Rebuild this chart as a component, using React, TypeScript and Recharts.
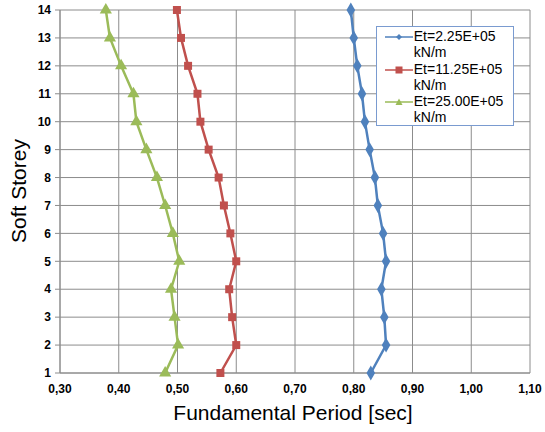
import React from "react";
import {
  ScatterChart,
  Scatter,
  XAxis,
  YAxis,
  ZAxis,
  CartesianGrid,
} from "recharts";

const storeys = [1, 2, 3, 4, 5, 6, 7, 8, 9, 10, 11, 12, 13, 14];

// fundamental period [sec] per soft storey
const periodEt225 = [0.829, 0.855, 0.852, 0.847, 0.855, 0.85, 0.841, 0.836, 0.827, 0.819, 0.814, 0.806, 0.8, 0.795];
const periodEt1125 = [0.573, 0.6, 0.593, 0.588, 0.6, 0.59, 0.579, 0.57, 0.553, 0.539, 0.534, 0.518, 0.506, 0.499];
const periodEt2500 = [0.479, 0.501, 0.495, 0.489, 0.503, 0.492, 0.479, 0.465, 0.447, 0.43, 0.425, 0.404, 0.385, 0.378];

const xTicks = [0.3, 0.4, 0.5, 0.6, 0.7, 0.8, 0.9, 1.0, 1.1];

const seriesNames = ["Et=2.25E+05 kN/m", "Et=11.25E+05 kN/m", "Et=25.00E+05 kN/m"];

const BLUE = "#4F81BD";
const RED = "#C0504D";
const GREEN = "#9BBB59";
const GRID = "#8c8c8c";
const FONT = "'Liberation Sans', Arial, sans-serif";

const toPoints = (values: number[]) =>
  values.map((v, i) => ({ period: v, storey: storeys[i] }));

const series = [
  { name: seriesNames[0], color: BLUE, shape: "diamond" as const, data: toPoints(periodEt225) },
  { name: seriesNames[1], color: RED, shape: "square" as const, data: toPoints(periodEt1125) },
  { name: seriesNames[2], color: GREEN, shape: "triangle" as const, data: toPoints(periodEt2500) },
];

const fmt = (v: number) => v.toFixed(2).replace(".", ",");

function LegendMarker({ color, shape }: { color: string; shape: string }) {
  return (
    <svg width={28} height={10} style={{ display: "block" }}>
      <line x1={0} y1={5} x2={28} y2={5} stroke={color} strokeWidth={1.5} />
      {shape === "diamond" && <polygon points="14,2 17,5 14,8 11,5" fill={color} />}
      {shape === "square" && <rect x={10.5} y={1.5} width={7} height={7} fill={color} />}
      {shape === "triangle" && <polygon points="14,1.5 17.5,8 10.5,8" fill={color} />}
    </svg>
  );
}

export default function App() {
  return (
    <div style={{ position: "absolute", left: 0, top: 0, width: 545, height: 432, background: "#fff", fontFamily: FONT }}>
      <ScatterChart width={545} height={432} margin={{ top: 10, right: 15, bottom: 0, left: 0 }}>
        <CartesianGrid stroke={GRID} strokeWidth={1} />
        <XAxis
          type="number"
          dataKey="period"
          domain={[0.3, 1.1]}
          ticks={xTicks}
          tickFormatter={fmt}
          height={59}
          axisLine={{ stroke: GRID }}
          tickLine={false}
          tickSize={0}
          tickMargin={11}
          tick={{ fill: "#000", fontSize: 12, fontWeight: 700, fontFamily: FONT }}
          label={{
            content: () => (
              <text x={293} y={412} textAnchor="middle" dominantBaseline="central" fontSize={21} fontFamily={FONT} fill="#000">
                Fundamental Period [sec]
              </text>
            ),
          }}
        />
        <YAxis
          type="number"
          dataKey="storey"
          domain={[1, 14]}
          ticks={storeys}
          width={60}
          axisLine={{ stroke: GRID }}
          tickLine={{ stroke: GRID }}
          tickSize={5}
          tickMargin={4}
          tick={{ fill: "#000", fontSize: 12, fontWeight: 700, fontFamily: FONT }}
          label={{
            content: () => (
              <text x={18} y={191} transform="rotate(-90 18 191)" textAnchor="middle" dominantBaseline="central" fontSize={21} fontFamily={FONT} fill="#000">
                Soft Storey
              </text>
            ),
          }}
        />
        <ZAxis range={[80, 80]} />
        {series.map((s) => (
          <Scatter
            key={s.name}
            name={s.name}
            data={s.data}
            fill={s.color}
            shape={s.shape}
            line={{ stroke: s.color, strokeWidth: 2.5 }}
            lineType="joint"
            isAnimationActive={false}
          />
        ))}
      </ScatterChart>
      <div
        style={{
          position: "absolute",
          left: 376,
          top: 26,
          width: 138,
          height: 100,
          border: "1px solid #7a9bd0",
          background: "#fff",
          boxSizing: "border-box",
          padding: "1px 0 0 8px",
        }}
      >
        {series.map((s) => (
          <div key={s.name} style={{ display: "flex", alignItems: "flex-start" }}>
            <div style={{ marginTop: 4, width: 29 }}>
              <LegendMarker color={s.color} shape={s.shape} />
            </div>
            <div style={{ fontSize: 14, lineHeight: "16.3px", color: "#000", width: 100 }}>
              {s.name.split(" ")[0]}
              <br />
              {s.name.split(" ")[1]}
            </div>
          </div>
        ))}
      </div>
    </div>
  );
}
